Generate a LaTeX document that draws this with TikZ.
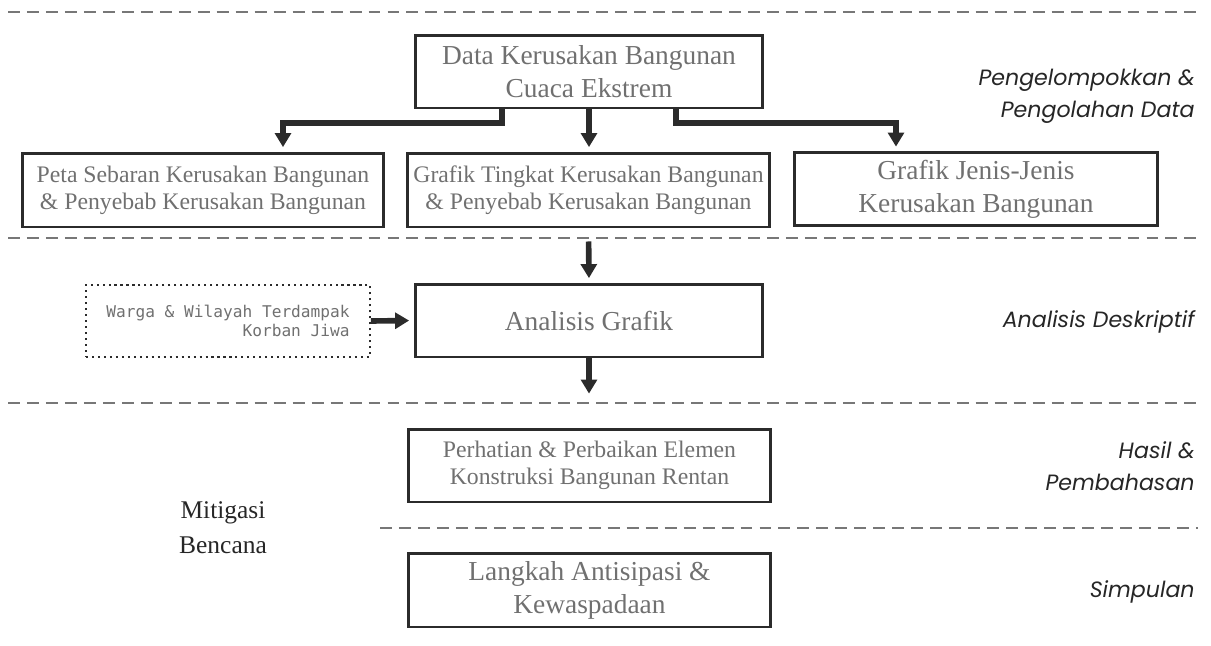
\documentclass[tikz,border=0pt]{standalone}
\usepackage{fontspec}
\setmainfont{Liberation Serif}
\newfontfamily\lblfont{Poppins}
\newfontfamily\wargafont{DejaVu Sans Mono}
\usetikzlibrary{arrows.meta,positioning}

\definecolor{boxtext}{HTML}{707070}
\definecolor{boxline}{HTML}{2B2B2B}
\definecolor{dashgray}{HTML}{777777}

\tikzset{
  box/.style={draw=boxline, line width=1.7pt, text=boxtext, align=center,
    inner sep=0pt},
  bigtxt/.style={font=\fontsize{15.6}{18.7}\selectfont},
  smalltxt/.style={font=\fontsize{13.5}{15.3}\selectfont},
  arr/.style={draw=boxline, line width=3.2pt,
    -{Triangle[width=9pt,length=8pt]}, shorten >=2.5pt},
  sepline/.style={dashgray, line width=1.5pt, dash pattern=on 6.8pt off 4pt},
  side/.style={anchor=east, align=right, text=black!85, inner sep=0pt,
    font=\lblfont\itshape\fontsize{12.6}{18}\selectfont},
}

\begin{document}
\begin{tikzpicture}[x=0.02cm, y=-0.02cm]
  \useasboundingbox (0,0) rectangle (1211,646);

  % separators
  \draw[sepline] (8,12) -- (1200,12);
  \draw[sepline] (8,238) -- (1200,238);
  \draw[sepline] (8,403) -- (1200,403);
  \draw[sepline] (380,528) -- (1198,528);

  % data source
  \node[box, bigtxt, minimum width=6.96cm, minimum height=1.46cm] (data) at (589,71.5)
    {Data Kerusakan Bangunan\\Cuaca Ekstrem};

  % grouping
  \node[box, smalltxt, minimum width=7.24cm, minimum height=1.48cm] (peta) at (203,190)
    {Peta Sebaran Kerusakan Bangunan\\\& Penyebab Kerusakan Bangunan};
  \node[box, smalltxt, minimum width=7.26cm, minimum height=1.48cm] (tingkat) at (588.5,190)
    {Grafik Tingkat Kerusakan Bangunan\\\& Penyebab Kerusakan Bangunan};
  \node[box, bigtxt, minimum width=7.28cm, minimum height=1.46cm] (jenis) at (976,189)
    {Grafik Jenis-Jenis\\Kerusakan Bangunan};

  \coordinate (elbL) at (283,123);
  \coordinate (elbR) at (896,123);
  \draw[arr] ([xshift=-1.74cm]data.south) |- (elbL) -- (elbL |- peta.north);
  \draw[arr] (data.south) -- (data.south |- tingkat.north);
  \draw[arr] ([xshift=1.74cm]data.south) |- (elbR) -- (elbR |- jenis.north);

  % analysis
  \node[box, bigtxt, minimum width=6.96cm, minimum height=1.46cm] (analisis) at (589,320.5)
    {Analisis Grafik};
  \node[draw=boxline, line width=1pt, dash pattern=on 1.2pt off 2.2pt,
    text=boxtext, align=right, inner sep=0pt,
    font=\wargafont\fontsize{9.2}{10.8}\selectfont,
    minimum width=5.68cm, minimum height=1.44cm] (warga) at (228,321)
    {Warga \& Wilayah Terdampak\\Korban Jiwa};

  \draw[arr, shorten <=7.4pt] (tingkat.south) -- (analisis.north);
  \draw[arr] (warga.east) -- (analisis.west);
  \coordinate (outA) at (589,398);
  \draw[arr] (analisis.south) -- (outA);

  % results
  \node[box, smalltxt, minimum width=7.26cm, minimum height=1.46cm] (perhatian) at (589.5,465.5)
    {Perhatian \& Perbaikan Elemen\\Konstruksi Bangunan Rentan};
  \node[box, bigtxt, minimum width=7.26cm, minimum height=1.48cm] (langkah) at (589.5,590)
    {Langkah Antisipasi \&\\Kewaspadaan};

  \node[text=black!85, align=center, font=\fontsize{14.5}{19.8}\selectfont] (mitigasi) at (223,527.5)
    {Mitigasi\\Bencana};

  % stage labels
  \node[side] (lblolah) at (1195,96) {Pengelompokkan \&\\Pengolahan Data};
  \node[side] (lbldesk) at (1195,322) {Analisis Deskriptif};
  \node[side] (lblhasil) at (1195,466) {Hasil \&\\Pembahasan};
  \node[side] (lblsimp) at (1195,592) {Simpulan};
\end{tikzpicture}
\end{document}
